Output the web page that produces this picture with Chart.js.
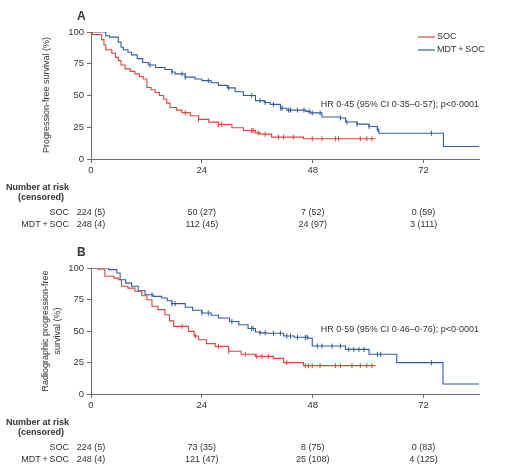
<!DOCTYPE html>
<html>
<head>
<meta charset="utf-8">
<script src="https://cdn.jsdelivr.net/npm/chart.js@4.4.0/dist/chart.umd.min.js"></script>
<style>
  html, body { margin: 0; padding: 0; background: #fff; }
  canvas { display: block; }
</style>
</head>
<body>
<canvas id="chartA" width="509" height="238"></canvas>
<canvas id="chartB" width="509" height="238"></canvas>
<script>
// ---- data (months, % surviving) ----
const xTicks = [0, 24, 48, 72];
const yTicks = [0, 25, 50, 75, 100];
const groups = ["SOC", "MDT\u2009+\u2009SOC"];

// panel A: progression-free survival
const socTimeA = [0, 0.3, 2.3, 2.8, 3.2, 4.5, 5.3, 5.9, 6.5, 7.4, 8.5, 9.5, 10.5, 11.3, 12.1, 13.0, 13.9, 14.8, 15.7, 16.4, 17.1, 18.5, 19.7, 21.5, 23.3, 25.5, 27.6, 30.5, 33.0, 35.6, 36.6, 39.1, 46.0, 61.6];
const socSurvA = [100, 98, 94, 90, 86, 83.3, 80, 77.5, 74, 71, 69, 67, 65, 63, 56.3, 54.5, 52.4, 50, 47, 44, 40.5, 38.5, 36.5, 34, 31.2, 29, 27.2, 24.6, 22.5, 20.6, 19.6, 17.2, 15.9, 15.9];
const mdtTimeA = [0, 3.2, 4.0, 5.9, 6.5, 7.0, 8.0, 8.8, 10.0, 11.2, 12.4, 14.0, 16.0, 17.5, 18.2, 20.4, 22.5, 24.0, 26.0, 27.6, 29.5, 31.2, 33.0, 35.6, 37.5, 38.8, 41.0, 42.4, 46.5, 47.5, 50.0, 54.0, 55.1, 57.6, 60.2, 62.0, 62.3, 76.3, 84];
const mdtSurvA = [100, 97, 96, 92, 88, 86, 84, 82, 79, 76, 74, 72, 70.5, 68.5, 67, 64.5, 63, 61.7, 60, 58, 56, 53, 50, 46, 44.5, 43, 40, 38.5, 37.5, 36.3, 33.1, 32.3, 29.1, 27.5, 25.6, 23.5, 20.3, 9.9, 9.9];
const socCensorA = [20.4, 23.3, 27.6, 28.3, 34.8, 35.1, 36.2, 37.7, 40.6, 41.7, 43.8, 47.9, 50.0, 52.9, 53.6, 58.3, 59.7, 60.8];
const mdtCensorA = [12.8, 17.5, 19.7, 20.4, 25.4, 29.8, 34.8, 36.6, 37.7, 39.5, 41.1, 41.4, 42.8, 43.2, 44.7, 46.1, 47.2, 47.9, 49.6, 54.0, 55.4, 57.6, 60.2, 62.0, 73.7];
const socAtRiskA = [224, 50, 7, 0];
const socCensoredA = [5, 27, 52, 59];
const mdtAtRiskA = [248, 112, 24, 3];
const mdtCensoredA = [4, 45, 97, 111];

// panel B: radiographic progression-free survival
const socTimeB = [0, 1.5, 3.0, 5.0, 5.9, 6.6, 8.0, 9.5, 11.0, 12.1, 13.2, 14.5, 16.0, 17.0, 17.9, 21.1, 22.3, 23.3, 25.0, 26.9, 29.8, 32.5, 35.6, 39.5, 41.7, 46.0, 61.6];
const socSurvB = [100, 99, 93.4, 92, 90.7, 85.5, 84, 81.5, 78, 74.8, 69.6, 67, 62.9, 58, 53.7, 49.7, 46, 43.1, 40, 37.8, 33.9, 31.5, 29.9, 28.3, 24.9, 22.5, 22.5];
const mdtTimeB = [0, 3.8, 5.6, 6.3, 7.5, 8.8, 10.2, 11.7, 13.5, 15.3, 16.5, 17.5, 20.4, 22.0, 24.0, 26.0, 27.6, 30.0, 32.0, 34.0, 35.6, 36.5, 38.1, 41.7, 44.0, 47.1, 47.9, 55.1, 60.2, 66.2, 76.2, 84];
const mdtSurvB = [100, 98.7, 96, 90.7, 88, 85.5, 82, 78.8, 77.5, 76.2, 74, 71.7, 68.8, 66.5, 64.3, 62.5, 60.3, 57.5, 55, 52, 49.2, 48.5, 48.2, 46, 45, 44.2, 38.1, 35.4, 31.5, 24.9, 7.9, 7.9];
const socCensorB = [19.7, 22.6, 27.6, 29.8, 33.4, 35.9, 37.0, 38.4, 42.4, 46.4, 47.1, 47.9, 49.6, 52.9, 54.0, 56.5, 58.3, 59.7, 60.8];
const mdtCensorB = [13.2, 17.5, 18.2, 24.0, 25.4, 30.5, 34.8, 35.1, 36.6, 37.7, 39.5, 41.0, 42.4, 43.2, 44.7, 46.4, 46.8, 49.0, 50.0, 52.2, 54.0, 55.8, 56.9, 58.0, 59.1, 62.0, 62.7, 73.7];
const socAtRiskB = [224, 73, 8, 0];
const socCensoredB = [5, 35, 75, 83];
const mdtAtRiskB = [248, 121, 25, 4];
const mdtCensoredB = [4, 47, 108, 125];

const RED = "#d9443b";
const BLUE = "#2f5c9c";
const AXIS = "#6b6b6b";
const TEXT = "#333333";
const FONT = '"Liberation Sans Narrow", "Liberation Sans", Arial, sans-serif';

// value of a step curve at time t
function survAt(times, surv, t) {
  let s = surv[0];
  for (let i = 0; i < times.length; i++) {
    if (times[i] <= t) s = surv[i];
  }
  return s;
}

function curve(times, surv) {
  return times.map((t, i) => ({ x: t, y: surv[i] }));
}

function censorMarks(censor, times, surv) {
  return censor.map(t => ({ x: t, y: survAt(times, surv, t) }));
}

// draws the panel letter, y title, legend, HR text and the number-at-risk table
const annotations = {
  id: "kmText",
  afterDraw(chart) {
    const o = chart.options.plugins.kmText;
    const ctx = chart.ctx;
    const xs = chart.scales.x;
    ctx.save();
    ctx.fillStyle = TEXT;
    ctx.textBaseline = "middle";

    ctx.font = "bold 12px " + FONT;
    ctx.textAlign = "left";
    ctx.fillText(o.letter, 77, o.letterY);

    // y title
    ctx.font = "9px " + FONT;
    ctx.textAlign = "center";
    o.yTitle.forEach((line, i) => {
      ctx.save();
      ctx.translate(o.yTitleX[i], o.yTitleY);
      ctx.rotate(-Math.PI / 2);
      ctx.fillText(line, 0, 0);
      ctx.restore();
    });

    // legend
    if (o.legend) {
      ctx.textAlign = "left";
      [0, 1].forEach(i => {
        const ds = chart.data.datasets[i];
        const y = 37 + i * 13;
        ctx.strokeStyle = ds.borderColor;
        ctx.lineWidth = 1.2;
        ctx.beginPath();
        ctx.moveTo(418, y);
        ctx.lineTo(435, y);
        ctx.stroke();
        ctx.fillText(ds.label, 437, y);
      });
    }

    // hazard ratio
    ctx.textAlign = "right";
    ctx.fillText(o.hr, 479, o.hrY);

    // number at risk
    ctx.font = "bold 9px " + FONT;
    ctx.fillText("Number at risk", 69, o.riskY);
    ctx.fillText("(censored)", 64, o.riskY + 10);
    ctx.font = "9px " + FONT;
    o.rows.forEach((row, r) => {
      const y = o.riskY + 25 + r * 12;
      ctx.textAlign = "right";
      ctx.fillText(groups[r], 69, y);
      ctx.textAlign = "center";
      xTicks.forEach((t, i) => {
        ctx.fillText(row.atRisk[i] + " (" + row.censored[i] + ")", xs.getPixelForValue(t), y);
      });
    });
    ctx.restore();
  }
};

function kmChart(id, p) {
  const lineStyle = { pointRadius: 0, borderWidth: 1.1, stepped: "before", fill: false };
  const tickStyle = { showLine: false, pointStyle: "line", rotation: 90, pointRadius: 2.5, borderWidth: 1 };
  return new Chart(document.getElementById(id), {
    type: "line",
    data: {
      datasets: [
        Object.assign({ label: groups[0], data: curve(p.socT, p.socS), borderColor: RED }, lineStyle),
        Object.assign({ label: groups[1], data: curve(p.mdtT, p.mdtS), borderColor: BLUE }, lineStyle),
        Object.assign({ label: "SOC censored", data: censorMarks(p.socC, p.socT, p.socS), borderColor: RED }, tickStyle),
        Object.assign({ label: "MDT censored", data: censorMarks(p.mdtC, p.mdtT, p.mdtS), borderColor: BLUE }, tickStyle)
      ]
    },
    options: {
      responsive: false,
      animation: false,
      layout: { padding: { top: p.top, right: 30, left: 0, bottom: 0 } },
      plugins: {
        legend: { display: false },
        tooltip: { enabled: false },
        kmText: p.text
      },
      scales: {
        x: {
          type: "linear",
          min: 0,
          max: 84,
          afterBuildTicks: s => { s.ticks = xTicks.map(v => ({ value: v })); },
          afterFit: s => { s.height = 238 - p.bottom; },
          grid: { drawOnChartArea: false, tickLength: 4, color: AXIS },
          border: { color: AXIS },
          ticks: { color: TEXT, font: { family: FONT, size: 9.5 }, padding: 2, maxRotation: 0 }
        },
        y: {
          min: 0,
          max: 100,
          afterBuildTicks: s => { s.ticks = yTicks.map(v => ({ value: v })); },
          afterFit: s => { s.width = 91; },
          grid: { drawOnChartArea: false, tickLength: 4, color: AXIS },
          border: { color: AXIS },
          ticks: { color: TEXT, font: { family: FONT, size: 9.5 }, padding: 3 }
        }
      }
    },
    plugins: [annotations]
  });
}

kmChart("chartA", {
  socT: socTimeA, socS: socSurvA, socC: socCensorA,
  mdtT: mdtTimeA, mdtS: mdtSurvA, mdtC: mdtCensorA,
  top: 32, bottom: 159,
  text: {
    letter: "A", letterY: 17,
    yTitle: ["Progression-free survival (%)"], yTitleX: [47], yTitleY: 95,
    legend: true,
    hr: "HR 0\u00b745 (95% CI 0\u00b735\u20130\u00b757); p<0\u00b70001", hrY: 105,
    riskY: 188,
    rows: [
      { atRisk: socAtRiskA, censored: socCensoredA },
      { atRisk: mdtAtRiskA, censored: mdtCensoredA }
    ]
  }
});

kmChart("chartB", {
  socT: socTimeB, socS: socSurvB, socC: socCensorB,
  mdtT: mdtTimeB, mdtS: mdtSurvB, mdtC: mdtCensorB,
  top: 30, bottom: 156,
  text: {
    letter: "B", letterY: 15,
    yTitle: ["Radiographic progression-free", "survival (%)"], yTitleX: [46, 58], yTitleY: 93,
    legend: false,
    hr: "HR 0\u00b759 (95% CI 0\u00b746\u20130\u00b776); p<0\u00b70001", hrY: 92,
    riskY: 185,
    rows: [
      { atRisk: socAtRiskB, censored: socCensoredB },
      { atRisk: mdtAtRiskB, censored: mdtCensoredB }
    ]
  }
});
</script>
</body>
</html>
